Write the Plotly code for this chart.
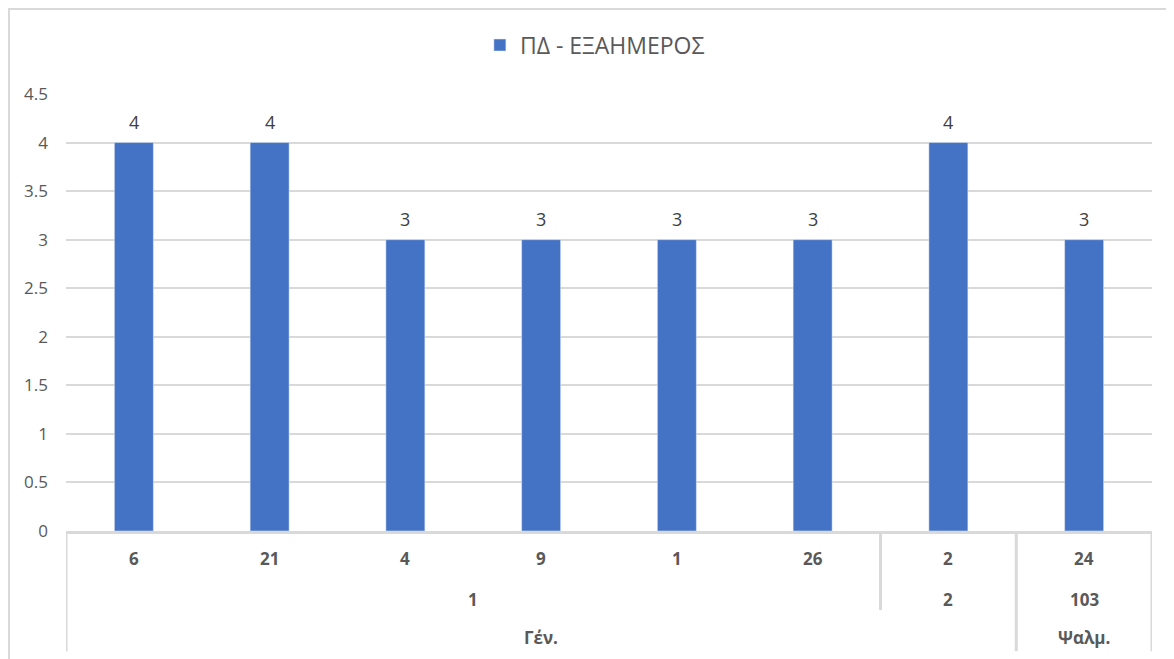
import plotly.graph_objects as go

# Data: three-level category axis (book / chapter / verse) and values
books = ["Γέν.", "Γέν.", "Γέν.", "Γέν.", "Γέν.", "Γέν.", "Γέν.", "Ψαλμ."]
chapters = ["1", "1", "1", "1", "1", "1", "2", "103"]
verses = ["6", "21", "4", "9", "1", "26", "2", "24"]
values = [4, 4, 3, 3, 3, 3, 4, 3]
series_name = "ΠΔ - ΕΞΑΗΜΕΡΟΣ"

FONT = "Open Sans"
GREY = "#595959"
LINE = "#d9d9d9"

fig = go.Figure()
fig.add_trace(go.Bar(
    x=verses, y=values, name=series_name,
    marker_color="#4472c4",
))


def spans(labels, parents=None):
    # group consecutive equal labels (restart when parent changes)
    out = []
    start = 0
    for i in range(1, len(labels) + 1):
        end = i == len(labels) or labels[i] != labels[start] or (
            parents is not None and parents[i] != parents[start])
        if end:
            out.append((labels[start], start, i - 1))
            start = i
    return out


annotations = []
shapes = []

# value labels above bars (x given as category index)
for i, val in enumerate(values):
    annotations.append(dict(x=i, y=val, xref="x", yref="y", text=str(val), showarrow=False,
                            yshift=21, yanchor="middle",
                            font=dict(family=FONT, size=18, color="#404040")))

# row y positions in paper coords (below the axis)
row_y = [-0.062, -0.156, -0.243]
row_bottom = [-0.181, -0.181, -0.275]
cat_font = dict(family=FONT, size=17, color=GREY)

for v_i, v in enumerate(verses):
    annotations.append(dict(x=v_i, y=row_y[0], xref="x", yref="paper", text="<b>%s</b>" % v,
                            showarrow=False, yanchor="middle", font=cat_font))
for lab, a, b in spans(chapters, books):
    annotations.append(dict(x=(a + b) / 2, y=row_y[1], xref="x", yref="paper", text="<b>%s</b>" % lab,
                            showarrow=False, yanchor="middle", font=cat_font))
for lab, a, b in spans(books):
    annotations.append(dict(x=(a + b) / 2, y=row_y[2], xref="x", yref="paper", text="<b>%s</b>" % lab,
                            showarrow=False, yanchor="middle", font=cat_font))

# group dividers
book_edges = set()
for lab, a, b in spans(books):
    book_edges.add(a - 0.5)
    book_edges.add(b + 0.5)
chap_edges = set()
for lab, a, b in spans(chapters, books):
    chap_edges.add(a - 0.5)
    chap_edges.add(b + 0.5)
for e in sorted(book_edges | chap_edges):
    bottom = row_bottom[2] if e in book_edges else row_bottom[1]
    shapes.append(dict(type="line", xref="x", yref="paper", x0=e, x1=e, y0=0, y1=bottom,
                       line=dict(color=LINE, width=3)))

# outer chart border
shapes.append(dict(type="rect", xref="paper", yref="paper", x0=-0.0525, x1=1.08, y0=-0.4, y1=1.1945,
                   line=dict(color=LINE, width=2), layer="below"))

fig.update_layout(
    width=1174, height=659,
    margin=dict(l=58, r=30, t=86, b=136),
    paper_bgcolor="white", plot_bgcolor="white",
    font=dict(family=FONT, color=GREY),
    bargap=0.713,
    showlegend=True,
    legend=dict(orientation="h", x=0.487, xanchor="center", y=1.112, yanchor="middle",
                font=dict(family=FONT, size=23, color=GREY), itemwidth=30),
    xaxis=dict(type="category", range=[-0.5, len(verses) - 0.5], showticklabels=False,
               showline=True, linecolor=LINE, linewidth=3, showgrid=False, ticks=""),
    yaxis=dict(range=[0, 4.5], dtick=0.5, showgrid=True, gridcolor=LINE, gridwidth=1.5,
               zeroline=False, showline=False, ticks="", ticklabelstandoff=17,
               tickfont=dict(family=FONT, size=17, color=GREY)),
    annotations=annotations,
    shapes=shapes,
)

fig.write_html("out.html")
